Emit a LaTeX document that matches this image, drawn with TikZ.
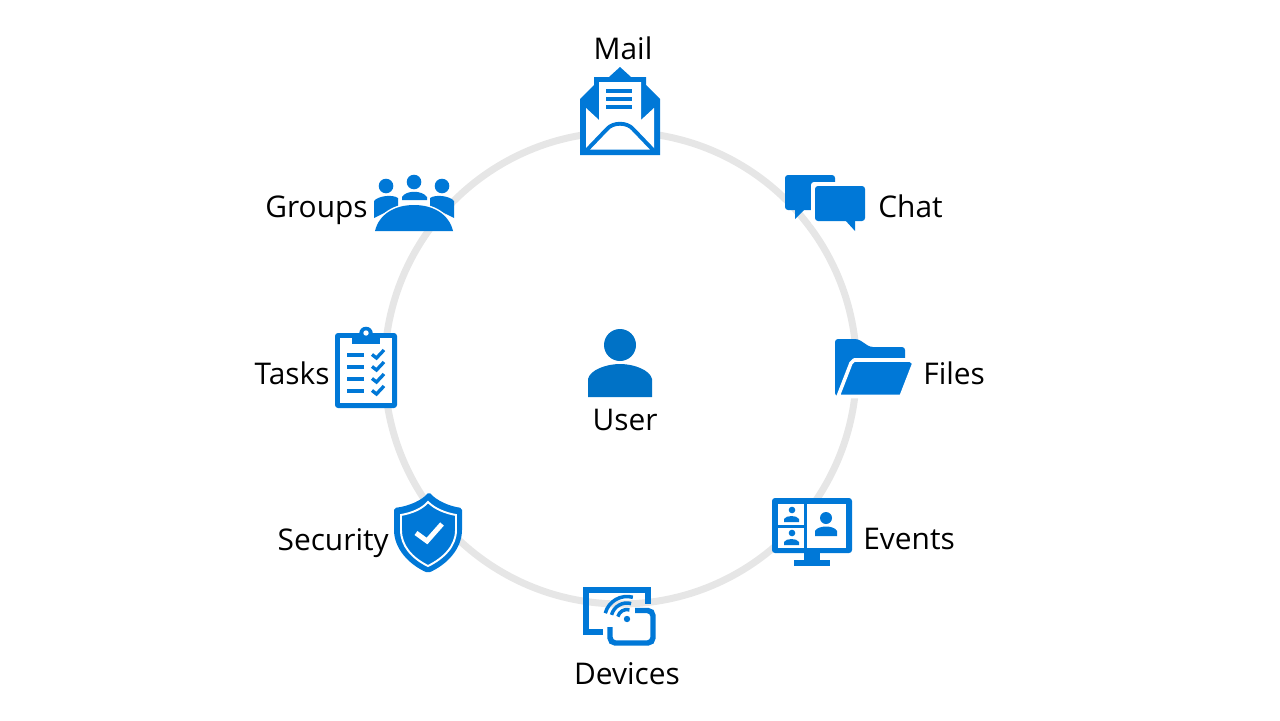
\documentclass[tikz,border=0pt]{standalone}
\usepackage{fontspec}
\setmainfont{Open Sans}
\definecolor{iconblue}{HTML}{0078D7}
\definecolor{userblue}{HTML}{0072C6}
\definecolor{ringgray}{HTML}{E6E6E6}
\tikzset{
	iconhole/.style = {fill = white, draw = none},
	iconline/.style = {draw = iconblue, line width = 1.9pt, line join = miter},
	label/.style = {font = \fontsize{17}{20}\selectfont, text = black, inner sep = 0pt}
}
\begin{document}
\begin{tikzpicture}[x = .02cm, y = -.02cm]
	\useasboundingbox (0,0) rectangle (1280,720);
	\draw[ringgray, line width = 4pt] (620.5,368) circle[radius = 236];

	\fill[userblue] (620,345) circle[radius = 16];
	\fill[userblue] (588,397) -- (588,379) .. controls (590,370) and (606,364) .. (620,364) .. controls (634,364) and (650,370) .. (652,379) -- (652,397) -- cycle;

	\fill[iconblue] (580,155) -- (580,99) -- (594,85) -- (594,77) -- (609,77) -- (620,67) -- (631,77) -- (646,77) -- (646,85) -- (660,99) -- (660,155) -- cycle;
	\fill[iconhole] (586,108) -- (599,120) -- (599,82) -- (641,82) -- (641,120) -- (654,108) -- (654,149.5) -- (586,149.5) -- cycle;
	\draw[iconblue, line width = 2.2pt] (584,153) -- (607,129) .. controls (613,122) and (627,122) .. (633,129) -- (656,153);
	\foreach \ly in {89,97,105}
		\fill[iconblue] (606,\ly) rectangle (632,\ly + 3.6);

	\fill[iconblue] (386,186) circle[radius = 7.3];
	\fill[iconblue] (414,182) circle[radius = 7.3];
	\fill[iconblue] (442,186) circle[radius = 7.3];
	\fill[iconblue] (374,218) -- (374,201) .. controls (378,196) and (392,194) .. (398,198) -- (398,206) -- cycle;
	\fill[iconblue] (402,200) -- (402,197) .. controls (406,190) and (422,190) .. (427,197) -- (427,200) -- cycle;
	\fill[iconblue] (454,218) -- (454,201) .. controls (450,196) and (436,194) .. (430,198) -- (430,206) -- cycle;
	\draw[white, line width = 1.8pt] (375,232) .. controls (379,214) and (395,205) .. (414,205) .. controls (433,205) and (449,214) .. (453,232);
	\fill[iconblue] (375,231) .. controls (379,214) and (395,205) .. (414,205) .. controls (433,205) and (449,214) .. (453,231) -- cycle;

	\fill[iconblue, rounded corners = 1.7pt] (785,175) rectangle (835,210);
	\fill[iconblue] (795,209) -- (795,219) -- (805,209) -- cycle;
	\fill[white, rounded corners = 1.7pt] (811,182) rectangle (869,225);
	\fill[iconblue, rounded corners = 1.7pt] (815,186) rectangle (865,221);
	\fill[iconblue] (845,220) -- (855,231) -- (855,220) -- cycle;

	\fill[iconblue, rounded corners = 1.7pt] (335,333) rectangle (397,408);
	\fill[iconhole] (340,338) rectangle (392,403);
	\fill[iconblue] (352,338) rectangle (380,344);
	\fill[iconblue] (366,333.5) circle[radius = 6.8];
	\fill[iconhole] (366,333) circle[radius = 2.7];
	\foreach \ty in {353,365,377,389} {
		\fill[iconblue] (347,\ty) rectangle (364,\ty + 3.7);
		\draw[iconline] (372,\ty + 1.5) -- (376.5,\ty + 5) -- (384,\ty - 3);
	}

	\fill[iconblue, rounded corners = 1.7pt] (835,396) -- (835,339) -- (858,339) -- (870,347) -- (905,347) -- (905,370) -- (860,396) -- cycle;
	\draw[white, line width = 2pt, fill = iconblue, line join = round] (838,396.5) -- (851,363) -- (854,360) -- (910,360) -- (914,363) -- (901,396.5) -- cycle;

	\fill[iconblue, rounded corners = 1.1pt] (394,508) .. controls (410,506) and (422,500) .. (429,492) .. controls (436,500) and (448,506) .. (462,508) -- (462,528) .. controls (462,548) and (448,564) .. (428,573) .. controls (408,564) and (394,548) .. (394,528) -- cycle;
	\draw[white, line width = 1.1pt] (401,515) .. controls (412,513) and (422,509) .. (428,502) .. controls (435,509) and (445,513) .. (456,515) -- (456,530) .. controls (456,546) and (444,558) .. (428,566) .. controls (412,558) and (401,546) .. (401,530) -- cycle;
	\draw[white, line width = 2.8pt] (416,533) -- (427,541) -- (442,524);

	\fill[iconblue, rounded corners = 1.7pt] (772,498) rectangle (852,553);
	\fill[iconblue] (804,553) rectangle (820,560);
	\fill[iconblue] (794,560) rectangle (830,566);
	\fill[iconhole] (778,504) rectangle (804,525);
	\fill[iconhole] (778,528) rectangle (804,548);
	\fill[iconhole] (807,504) rectangle (846,548);
	\fill[iconblue] (826,518) circle[radius = 6];
	\fill[iconblue] (815,536) -- (815,531) .. controls (818,525) and (834,525) .. (837,531) -- (837,536) -- cycle;
	\foreach \py in {510,533} {
		\fill[iconblue] (792,\py) circle[radius = 3.3];
		\fill[iconblue] (784,\py + 12) -- (784,\py + 9) .. controls (786,\py + 5) and (797,\py + 5) .. (799,\py + 9) -- (799,\py + 12) -- cycle;
	}

	\draw[iconblue, line width = 3.1pt] (603,632) -- (586,632) -- (586,590) -- (648,590) -- (648,604);
	\draw[iconblue, line width = 3.1pt, rounded corners = 3pt] (635,610.5) -- (653,610.5) -- (653,643) -- (610,643) -- (610,627);
	\fill[iconblue] (627,619) circle[radius = 3.2];
	\foreach \wr in {9.5,16,22.5}
		\draw[iconblue, line width = 2pt] (627,619) ++(195:\wr) arc (195:285:\wr);

	\node[label, anchor = base] (mail) at (623,59) {Mail};
	\node[label, anchor = base east] (groups) at (368,217) {Groups};
	\node[label, anchor = base west] (chat) at (878,217) {Chat};
	\node[label, anchor = base east] (tasks) at (330,384) {Tasks};
	\node[label, anchor = base west] (files) at (923,384) {Files};
	\node[label, anchor = base east] (security) at (389,550) {Security};
	\node[label, anchor = base west] (events) at (863,549) {Events};
	\node[label, anchor = base] (devices) at (627,684) {Devices};
	\node[label, anchor = base] (user) at (625,430) {User};
\end{tikzpicture}
\end{document}
